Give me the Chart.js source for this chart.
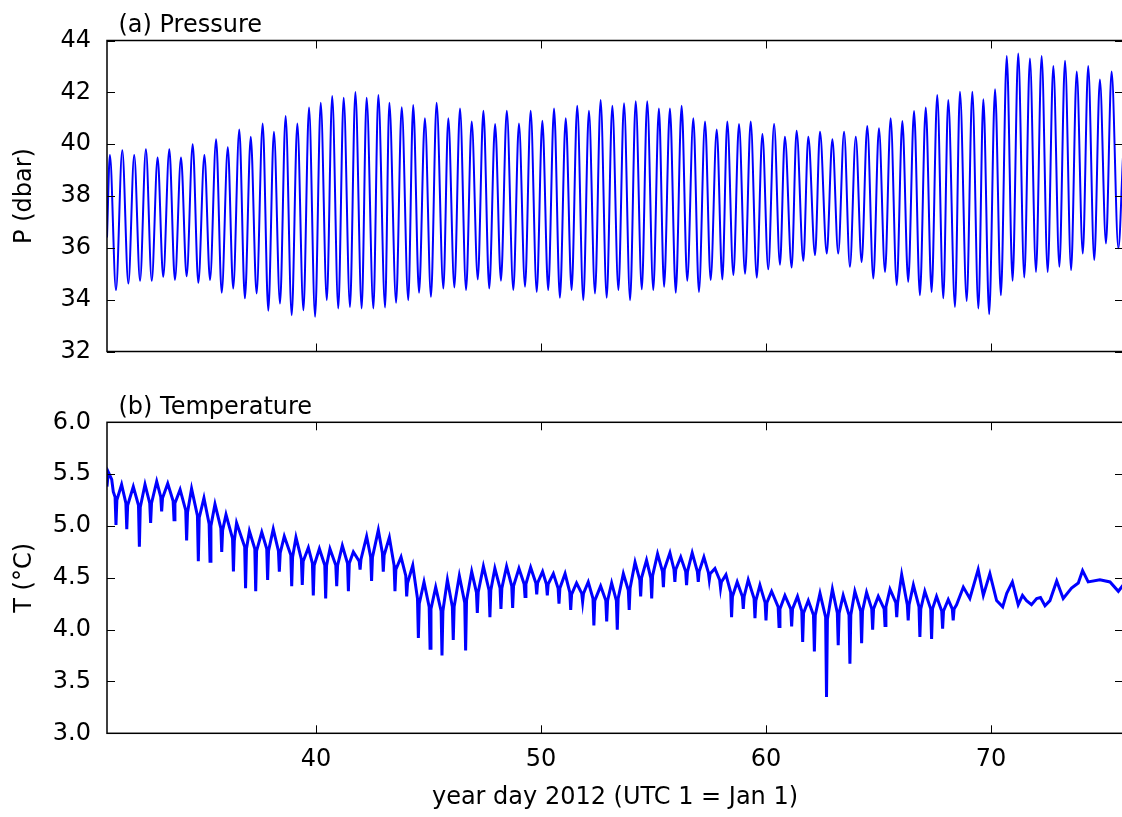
<!DOCTYPE html>
<html>
<head>
<meta charset="utf-8">
<script src="https://cdn.jsdelivr.net/npm/chart.js@4.4.1/dist/chart.umd.min.js"></script>
<style>
  html, body { margin: 0; padding: 0; background: #fff; overflow: hidden; }
  #wrap { position: relative; width: 1122px; height: 817px; overflow: hidden; }
  canvas { position: absolute; left: 0; }
</style>
</head>
<body>
<div id="wrap">
  <canvas id="pressure" width="1124" height="380" style="top:0"></canvas>
  <canvas id="temperature" width="1124" height="437" style="top:380px"></canvas>
</div>
<script>
// x range and ticks (year day)
const dayMin = 30.711, dayMax = 75.867;
const dayTicks = [40, 50, 60, 70];
const pTicks = [32, 34, 36, 38, 40, 42, 44];
const tTicks = [3.0, 3.5, 4.0, 4.5, 5.0, 5.5, 6.0];

// pressure: tidal highs and lows
const pStart = [30.711, 36.4];
const pEnd = [75.867, 39.5];
const highDay = [30.84,31.39,31.92,32.44,32.96,33.48,34.00,34.52,35.04,35.56,36.08,36.59,37.10,37.63,38.13,38.65,39.17,39.69,40.21,40.72,
  41.23,41.75,42.25,42.77,43.26,43.81,44.32,44.84,45.36,45.88,46.40,46.92,47.44,47.96,48.48,49.02,49.54,50.06,50.58,51.10,
  51.61,52.13,52.65,53.17,53.69,54.21,54.72,55.24,55.73,56.25,56.77,57.29,57.81,58.28,58.80,59.32,59.84,60.36,60.84,61.36,
  61.88,62.40,62.95,63.47,63.99,64.50,65.02,65.54,66.06,66.58,67.10,67.61,68.10,68.62,69.17,69.66,70.18,70.70,71.21,71.73,
  72.25,72.77,73.29,73.81,74.32,74.84,75.36];
const highP = [39.58,39.77,39.58,39.80,39.49,39.80,39.49,40.00,39.58,40.19,39.88,40.57,40.29,40.80,40.48,41.09,40.80,41.41,41.60,41.86,
  41.79,42.01,41.79,41.90,41.60,41.42,41.51,41.00,41.60,41.00,41.38,40.87,41.29,40.78,41.29,40.80,41.29,40.90,41.38,41.00,
  41.48,41.29,41.70,41.48,41.58,41.66,41.66,41.38,41.38,41.48,41.00,40.87,40.57,40.87,40.78,40.87,40.39,40.78,40.29,40.52,
  40.29,40.48,40.19,40.48,40.29,40.70,40.61,41.00,40.89,41.28,41.41,41.90,41.70,42.02,42.02,41.73,42.12,43.40,43.50,43.31,
  43.40,43.02,43.22,42.80,43.02,42.50,42.80];
const lowDay = [31.11,31.66,32.18,32.70,33.21,33.73,34.25,34.77,35.29,35.81,36.32,36.84,37.36,37.88,38.40,38.92,39.44,39.96,40.48,40.99,
  41.51,42.03,42.55,43.07,43.56,44.10,44.58,45.11,45.66,46.15,46.67,47.19,47.70,48.22,48.77,49.29,49.81,50.32,50.84,51.36,
  51.88,52.40,52.92,53.44,53.96,54.48,54.99,55.47,55.99,56.50,57.02,57.54,58.06,58.55,59.07,59.59,60.10,60.62,61.14,61.66,
  62.18,62.70,63.21,63.73,64.25,64.77,65.29,65.81,66.32,66.84,67.36,67.88,68.40,68.92,69.44,69.92,70.44,70.96,71.48,72.00,
  72.52,73.04,73.56,74.08,74.59,75.11,75.66];
const lowP = [34.37,34.62,34.73,34.73,34.88,34.76,34.90,34.65,34.76,34.27,34.43,34.05,34.24,33.57,33.85,33.40,33.59,33.34,33.98,33.66,
  33.72,33.66,33.66,33.70,33.88,33.98,34.27,34.11,34.43,34.47,34.37,34.78,34.43,34.73,34.37,34.50,34.30,34.37,34.07,34.37,
  33.98,34.24,34.07,34.37,33.98,34.40,34.37,34.50,34.27,34.73,34.30,34.76,34.78,34.95,35.00,34.85,35.17,35.35,35.24,35.50,
  35.72,35.78,35.78,35.27,35.45,34.82,35.07,34.56,34.69,34.17,34.30,34.05,33.72,33.95,33.66,33.44,34.17,34.73,34.86,35.07,
  35.07,35.27,35.14,35.78,35.53,36.17,35.98];

// temperature: band tops, band edges either side of each dip, and dips
const tempDay = [30.71,30.77,30.92,30.99,
  31.07,31.11,31.15,31.36, 31.55,31.59,31.63,31.88, 32.11,32.15,32.19,32.40, 32.61,32.65,32.69,32.92,
  33.10,33.14,33.18,33.41, 33.65,33.69,33.73,33.96, 34.21,34.25,34.29,34.47, 34.73,34.77,34.81,35.02,
  35.25,35.29,35.33,35.51, 35.77,35.81,35.85,36.00, 36.29,36.33,36.37,36.47, 36.83,36.87,36.91,37.04,
  37.28,37.32,37.36,37.59, 37.81,37.85,37.89,38.10, 38.33,38.37,38.41,38.59, 38.88,38.92,38.96,39.11,
  39.35,39.39,39.43,39.66, 39.84,39.88,39.92,40.15, 40.39,40.43,40.47,40.62, 40.88,40.92,40.96,41.17,
  41.40,41.44,41.48,41.66, 41.92,41.96,42.00,42.25, 42.43,42.47,42.51,42.77, 42.95,42.99,43.03,43.26,
  43.47,43.51,43.55,43.78, 43.99,44.03,44.07,44.30, 44.51,44.55,44.59,44.80, 45.03,45.07,45.11,45.32,
  45.56,45.60,45.64,45.84, 46.06,46.10,46.14,46.37, 46.61,46.65,46.69,46.92, 47.13,47.17,47.21,47.44,
  47.69,47.73,47.77,47.95, 48.18,48.22,48.26,48.47, 48.70,48.74,48.78,49.02, 49.25,49.29,49.33,49.54,
  49.77,49.81,49.85,50.07, 50.24,50.28,50.32,50.55, 50.76,50.80,50.84,51.07, 51.28,51.32,51.36,51.58,
  51.81,51.85,51.89,52.10, 52.31,52.35,52.39,52.65, 52.88,52.92,52.96,53.14, 53.35,53.39,53.43,53.66,
  53.88,53.92,53.96,54.18, 54.39,54.43,54.47,54.69, 54.88,54.92,54.96,55.18, 55.40,55.44,55.48,55.73,
  55.91,55.95,55.99,56.21, 56.43,56.47,56.51,56.72, 56.95,56.99,57.03,57.24, 57.44,57.48,57.52,57.73,
  57.94,57.98,58.02,58.22, 58.43,58.47,58.51,58.72, 58.95,58.99,59.03,59.21, 59.47,59.51,59.55,59.73,
  59.96,60.00,60.04,60.25, 60.54,60.58,60.62,60.84, 61.10,61.14,61.18,61.40, 61.59,61.63,61.67,61.88,
  62.11,62.15,62.19,62.40, 62.65,62.69,62.73,62.95, 63.17,63.21,63.25,63.43, 63.69,63.73,63.77,63.95,
  64.21,64.25,64.29,64.47, 64.70,64.74,64.78,64.99, 65.25,65.29,65.33,65.51, 65.77,65.81,65.85,66.03,
  66.28,66.32,66.36,66.55, 66.80,66.84,66.88,67.06, 67.32,67.36,67.40,67.58, 67.81,67.85,67.89,68.10,
  68.28,68.32,68.36,68.47,
  68.77,69.06,69.43,69.66,69.95,70.25,70.52,70.70,70.95,71.21,71.40,71.58,71.80,72.03,72.20,72.40,72.62,72.92,
  73.21,73.58,73.88,74.07,74.32,74.84,75.29,75.66,75.87];
const tempC = [5.38,5.52,5.45,5.33,
  5.28,5.01,5.25,5.40, 5.22,4.97,5.20,5.38, 5.20,4.80,5.18,5.40, 5.22,5.03,5.22,5.43,
  5.28,5.14,5.27,5.41, 5.24,5.06,5.22,5.35, 5.15,4.86,5.13,5.36, 5.10,4.66,5.08,5.27,
  5.02,4.66,5.00,5.21, 4.98,4.75,4.96,5.11, 4.88,4.56,4.86,5.03, 4.80,4.40,4.78,4.95,
  4.78,4.37,4.76,4.94, 4.78,4.48,4.76,4.97, 4.76,4.56,4.74,4.90, 4.72,4.42,4.70,4.89,
  4.68,4.43,4.66,4.79, 4.64,4.33,4.62,4.78, 4.62,4.30,4.62,4.78, 4.62,4.42,4.62,4.81,
  4.64,4.37,4.64,4.75, 4.66,4.58,4.68,4.90, 4.70,4.47,4.70,4.96, 4.74,4.56,4.72,4.89,
  4.62,4.37,4.58,4.70, 4.52,4.32,4.45,4.62, 4.30,3.92,4.25,4.46, 4.22,3.82,4.20,4.41,
  4.18,3.75,4.18,4.48, 4.22,3.90,4.22,4.52, 4.26,3.80,4.28,4.56, 4.36,4.16,4.36,4.61,
  4.38,4.12,4.38,4.59, 4.40,4.20,4.40,4.61, 4.42,4.21,4.42,4.59, 4.44,4.32,4.44,4.60,
  4.45,4.34,4.45,4.56, 4.44,4.33,4.44,4.54, 4.40,4.25,4.40,4.54, 4.36,4.19,4.34,4.45,
  4.35,4.27,4.35,4.46, 4.30,4.04,4.28,4.42, 4.28,4.08,4.28,4.45, 4.28,4.00,4.30,4.54,
  4.38,4.19,4.40,4.65, 4.48,4.32,4.50,4.67, 4.50,4.30,4.52,4.73, 4.56,4.41,4.58,4.74,
  4.58,4.46,4.58,4.70, 4.56,4.43,4.56,4.74, 4.56,4.46,4.56,4.70, 4.55,4.48,4.54,4.59,
  4.48,4.40,4.46,4.53, 4.36,4.12,4.32,4.46, 4.32,4.20,4.32,4.48, 4.30,4.11,4.28,4.43,
  4.26,4.09,4.26,4.37, 4.22,4.03,4.20,4.33, 4.20,4.03,4.20,4.32, 4.18,3.88,4.16,4.28,
  4.14,3.79,4.14,4.35, 4.12,3.35,4.10,4.39, 4.16,3.85,4.16,4.33, 4.14,3.67,4.14,4.37,
  4.18,3.87,4.18,4.36, 4.20,4.00,4.20,4.32, 4.20,4.04,4.22,4.39, 4.26,4.12,4.26,4.53,
  4.24,4.09,4.24,4.43, 4.22,3.93,4.20,4.37, 4.20,3.91,4.20,4.32, 4.18,4.01,4.18,4.29,
  4.20,4.09,4.20,4.24,
  4.41,4.30,4.58,4.33,4.54,4.28,4.22,4.35,4.46,4.24,4.33,4.28,4.24,4.30,4.31,4.23,4.28,4.47,
  4.30,4.40,4.45,4.57,4.46,4.48,4.46,4.37,4.43];

const pressurePoints = [{x: pStart[0], y: pStart[1]}];
highDay.forEach((d, i) => {
  pressurePoints.push({x: d, y: highP[i]});
  pressurePoints.push({x: lowDay[i], y: lowP[i]});
});
pressurePoints.push({x: pEnd[0], y: pEnd[1]});
const tempPoints = tempDay.map((d, i) => ({x: d, y: tempC[i]}));

const FONT = {family: '"DejaVu Sans", sans-serif', size: 24};

// box round the plot, inward tick marks on all sides, panel label
const frame = {
  id: 'frame',
  afterDraw(chart, args, opts) {
    const {ctx, chartArea: a, scales} = chart;
    ctx.save();
    ctx.strokeStyle = '#000';
    ctx.lineWidth = 1;
    ctx.beginPath();
    scales.x.ticks.forEach(t => {
      const px = Math.round(scales.x.getPixelForValue(t.value)) + 0.5;
      ctx.moveTo(px, a.top); ctx.lineTo(px, a.top + 8);
      ctx.moveTo(px, a.bottom); ctx.lineTo(px, a.bottom - 8);
    });
    scales.y.ticks.forEach(t => {
      const py = Math.round(scales.y.getPixelForValue(t.value)) + 0.5;
      ctx.moveTo(a.left, py); ctx.lineTo(a.left + 8, py);
      ctx.moveTo(a.right, py); ctx.lineTo(a.right - 8, py);
    });
    ctx.stroke();
    ctx.lineWidth = 1.5;
    ctx.strokeRect(a.left, a.top, a.right - a.left, a.bottom - a.top);
    ctx.fillStyle = '#000';
    ctx.font = '24px "DejaVu Sans"';
    ctx.textAlign = 'left';
    ctx.textBaseline = 'alphabetic';
    ctx.fillText(opts.label, a.left + 11.5, a.top - 8.5);
    ctx.restore();
  }
};

function xScale(showLabels, height) {
  return {
    type: 'linear', min: dayMin, max: dayMax,
    grid: {display: false}, border: {display: false},
    ticks: {display: showLabels, font: FONT, color: '#000', padding: 4, maxRotation: 0},
    afterBuildTicks: s => { s.ticks = dayTicks.map(v => ({value: v})); },
    afterFit: s => { s.height = height; },
    title: {display: showLabels, text: 'year day 2012 (UTC 1 = Jan 1)', font: FONT, color: '#000', padding: {top: 0, bottom: 5}}
  };
}

function yScale(lo, hi, tickList, fmt, label) {
  return {
    min: lo, max: hi,
    grid: {display: false}, border: {display: false},
    ticks: {font: FONT, color: '#000', padding: 8, callback: fmt},
    afterBuildTicks: s => { s.ticks = tickList.map(v => ({value: v})); },
    afterFit: s => { s.width = 107; },
    title: {display: true, text: label, font: FONT, color: '#000', padding: {top: 10, bottom: 0}}
  };
}

Chart.register(frame);

new Chart(document.getElementById('pressure'), {
  type: 'line',
  data: {datasets: [{
    data: pressurePoints, borderColor: '#0000ff', borderWidth: 2,
    pointRadius: 0, cubicInterpolationMode: 'monotone', fill: false
  }]},
  options: {
    responsive: false, animation: false, events: [],
    layout: {padding: {top: 40.5, right: 1, left: 0, bottom: 0}},
    plugins: {legend: {display: false}, tooltip: {enabled: false}, frame: {label: '(a) Pressure'}},
    scales: {
      x: xScale(false, 28.5),
      y: yScale(32, 44, pTicks, v => String(v), 'P (dbar)')
    }
  }
});

new Chart(document.getElementById('temperature'), {
  type: 'line',
  data: {datasets: [{
    data: tempPoints, borderColor: '#0000ff', borderWidth: 3,
    pointRadius: 0, tension: 0, fill: false
  }]},
  options: {
    responsive: false, animation: false, events: [],
    layout: {padding: {top: 42.3, right: 1, left: 0, bottom: 0}},
    plugins: {legend: {display: false}, tooltip: {enabled: false}, frame: {label: '(b) Temperature'}},
    scales: {
      x: xScale(true, 83.7),
      y: yScale(3, 6, tTicks, v => v.toFixed(1), 'T (°C)')
    }
  }
});
</script>
</body>
</html>
